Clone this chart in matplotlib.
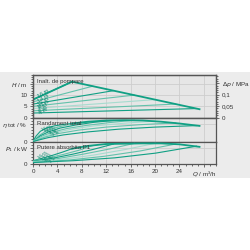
import matplotlib
matplotlib.use("Agg")
import matplotlib.pyplot as plt
from matplotlib.patches import Rectangle
from matplotlib.ticker import MultipleLocator

plt.rcParams['font.family'] = ['Liberation Sans', 'DejaVu Sans']

# ---------------- data ----------------
setpoints = ["16 m", "14 m", "12 m", "10 m", "8 m", "6 m", "4 m"]

# head lines (dp-v) : Q, H
h_q = [[0, 6.4], [0, 9.8], [0, 13.2], [0, 16.6], [0, 20.0], [0, 23.4], [0, 26.8]]
h_h = [[8, 16], [7, 14], [6, 12], [5, 10], [4, 8], [3, 6], [2, 4]]
max_q = [6.4, 27.3]
max_h = [16.0, 3.7]

# efficiency lines
e_q = [[0, 0.5, 1.2, 2.2, 3.5, 5, 6.4],
       [0, 1, 2, 3.5, 5.5, 7.5, 9.8],
       [0, 1.2, 2.5, 4.5, 7, 10, 13.2],
       [0, 1.5, 3, 5.5, 8.5, 12.5, 16.6],
       [0, 1.8, 3.5, 6.5, 10, 15, 20],
       [0, 2, 4, 7.5, 12, 17.5, 23.4],
       [0, 2.5, 5, 9, 14, 20, 26.8]]
e_v = [[0, 18, 34, 45, 52, 57, 60],
       [0, 20, 33, 45, 55, 62, 66],
       [0, 19, 32, 45, 55, 64, 70],
       [0, 18, 30, 43, 53, 63, 71],
       [0, 17, 29, 42, 52, 61, 68],
       [0, 15, 26, 38, 48, 56, 62],
       [0, 13, 22, 32, 41, 48, 53]]
emax_q = [6.4, 9, 12, 15, 18, 21, 24, 27.3]
emax_v = [60, 66, 70, 71, 70, 66, 60, 52]

# power lines
p_q = [[0, 1.6, 3.2, 4.8, 6.4],
       [0, 2.5, 5, 7.5, 9.8],
       [0, 3.3, 6.6, 9.9, 13.2],
       [0, 4.2, 8.3, 12.5, 16.6],
       [0, 5, 10, 15, 20],
       [0, 5.9, 11.7, 17.6, 23.4],
       [0, 6.7, 13.4, 20.1, 26.8]]
p_v = [[0.09, 0.17, 0.26, 0.36, 0.47],
       [0.08, 0.18, 0.29, 0.42, 0.57],
       [0.07, 0.17, 0.30, 0.45, 0.62],
       [0.06, 0.16, 0.30, 0.46, 0.64],
       [0.05, 0.14, 0.27, 0.44, 0.64],
       [0.04, 0.11, 0.23, 0.40, 0.62],
       [0.03, 0.09, 0.18, 0.33, 0.55]]
pmax_q = [6.4, 9, 12, 15, 18, 21, 24, 27.3]
pmax_v = [0.47, 0.56, 0.62, 0.63, 0.64, 0.64, 0.61, 0.53]

x_ticks = [0, 4, 8, 12, 16, 20, 24, 28]
x_labels = ["0", "4", "8", "12", "16", "20", "24", "$Q$ / m³/h"]

# ---------------- style ----------------
DARK = "#10a084"
MID = "#62c2ab"
PALE = "#a6dccf"
LAB = "#0b8a70"
line_cols = [DARK, MID, DARK, MID, PALE, MID, DARK]
SPINE = "#555555"
TXT = "#333333"
FS = 4.5

fig = plt.figure(figsize=(2.5, 2.5), dpi=100)
fig.patch.set_facecolor("white")
fig.patches.append(Rectangle((0, 0.288), 1, 0.424, transform=fig.transFigure,
                             facecolor="#ececec", edgecolor="none", zorder=-10))

L, W = 0.132, 0.732
axH = fig.add_axes([L, 0.530, W, 0.170])
axE = fig.add_axes([L, 0.434, W, 0.096])
axP = fig.add_axes([L, 0.346, W, 0.088])

for ax in (axH, axE, axP):
    ax.set_facecolor("#e6e6e6")
    ax.set_xlim(0, 30)
    for s in ax.spines.values():
        s.set_color(SPINE)
        s.set_linewidth(0.9)
    ax.set_xticks(x_ticks)
    ax.xaxis.set_minor_locator(MultipleLocator(1))
    ax.grid(True, which="major", color="#cdcdcd", lw=0.6, zorder=0)
    ax.tick_params(which="both", direction="out", color=SPINE, width=0.6,
                   labelsize=FS, labelcolor=TXT, pad=1.5)
    ax.tick_params(which="major", length=2.5)
    ax.tick_params(which="minor", length=1.5)
    ax.set_axisbelow(True)

for ax in (axH, axE):
    ax.tick_params(axis="x", which="both", bottom=False, labelbottom=False)

axP.set_xticklabels(x_labels)

# ---- head panel ----
axH.set_ylim(0, 19)
axH.set_yticks([0, 5, 10, 15])
axH.set_yticklabels(["0", "5", "10", "$H$ / m"])
axH.yaxis.set_minor_locator(MultipleLocator(1))
for q, h, c in zip(h_q, h_h, line_cols):
    axH.plot(q, h, color=c, lw=0.8, zorder=3)
axH.plot(h_q[0], h_h[0], color=DARK, lw=1.3, zorder=4)
axH.plot(max_q, max_h, color=DARK, lw=1.3, zorder=4)
for i, (lab, h) in enumerate(zip(setpoints, h_h)):
    q0 = 1.7
    hv = h[0] + (h[1] - h[0]) * q0 / h_q[i][1]
    axH.text(q0, hv + 0.5, lab, fontsize=4.0, color=LAB, rotation=32,
             ha="center", va="center", zorder=5)
axH.text(0.7, 16.0, "Inalt. de pompare", fontsize=4.3, color=TXT,
         ha="left", va="center", zorder=6)

axR = axH.twinx()
axR.set_ylim(0, 19 / 101.97)
axR.set_yticks([0, 0.05, 0.1, 0.15])
axR.set_yticklabels(["0", "0,05", "0,1", "$\\Delta p$ / MPa"])
axR.yaxis.set_minor_locator(MultipleLocator(0.01))
axR.tick_params(which="both", direction="out", color=SPINE, width=0.6,
                labelsize=FS, labelcolor=TXT, pad=1.5)
axR.tick_params(which="major", length=2.5)
axR.tick_params(which="minor", length=1.5)
for s in axR.spines.values():
    s.set_color(SPINE)
    s.set_linewidth(0.9)

# ---- efficiency panel ----
axE.set_ylim(0, 80)
axE.set_yticks([0, 60])
axE.set_yticklabels(["0", "$\\eta$ tot / %"])
axE.yaxis.set_minor_locator(MultipleLocator(10))
for q, v, c in zip(e_q, e_v, line_cols):
    axE.plot(q, v, color=c, lw=0.8, zorder=3)
axE.plot(emax_q, emax_v, color=DARK, lw=1.3, zorder=4)
for i, lab in enumerate(setpoints):
    axE.text(2.2 + 0.25 * i, 46 - 3.0 * i, lab, fontsize=3.2, color=LAB,
             rotation=25, ha="center", va="center", zorder=5)
axE.text(0.7, 60, "Randament total", fontsize=4.3, color=TXT,
         ha="left", va="center", zorder=6)

# ---- power panel ----
axP.set_ylim(0, 0.7)
axP.set_yticks([0, 0.5])
axP.set_yticklabels(["0", "$P_1$ / kW"])
axP.yaxis.set_minor_locator(MultipleLocator(0.1))
for q, v, c in zip(p_q, p_v, line_cols):
    axP.plot(q, v, color=c, lw=0.8, zorder=3)
axP.plot(pmax_q, pmax_v, color=DARK, lw=1.3, zorder=4)
for i, lab in enumerate(setpoints):
    axP.text(1.5 + 0.3 * i, 0.26 - 0.025 * i, lab, fontsize=3.2, color=LAB,
             rotation=40, ha="center", va="center", zorder=5)
axP.text(0.7, 0.5, "Putere absorbita P1", fontsize=4.3, color=TXT,
         ha="left", va="center", zorder=6)

fig.savefig("out.png", dpi=100)
